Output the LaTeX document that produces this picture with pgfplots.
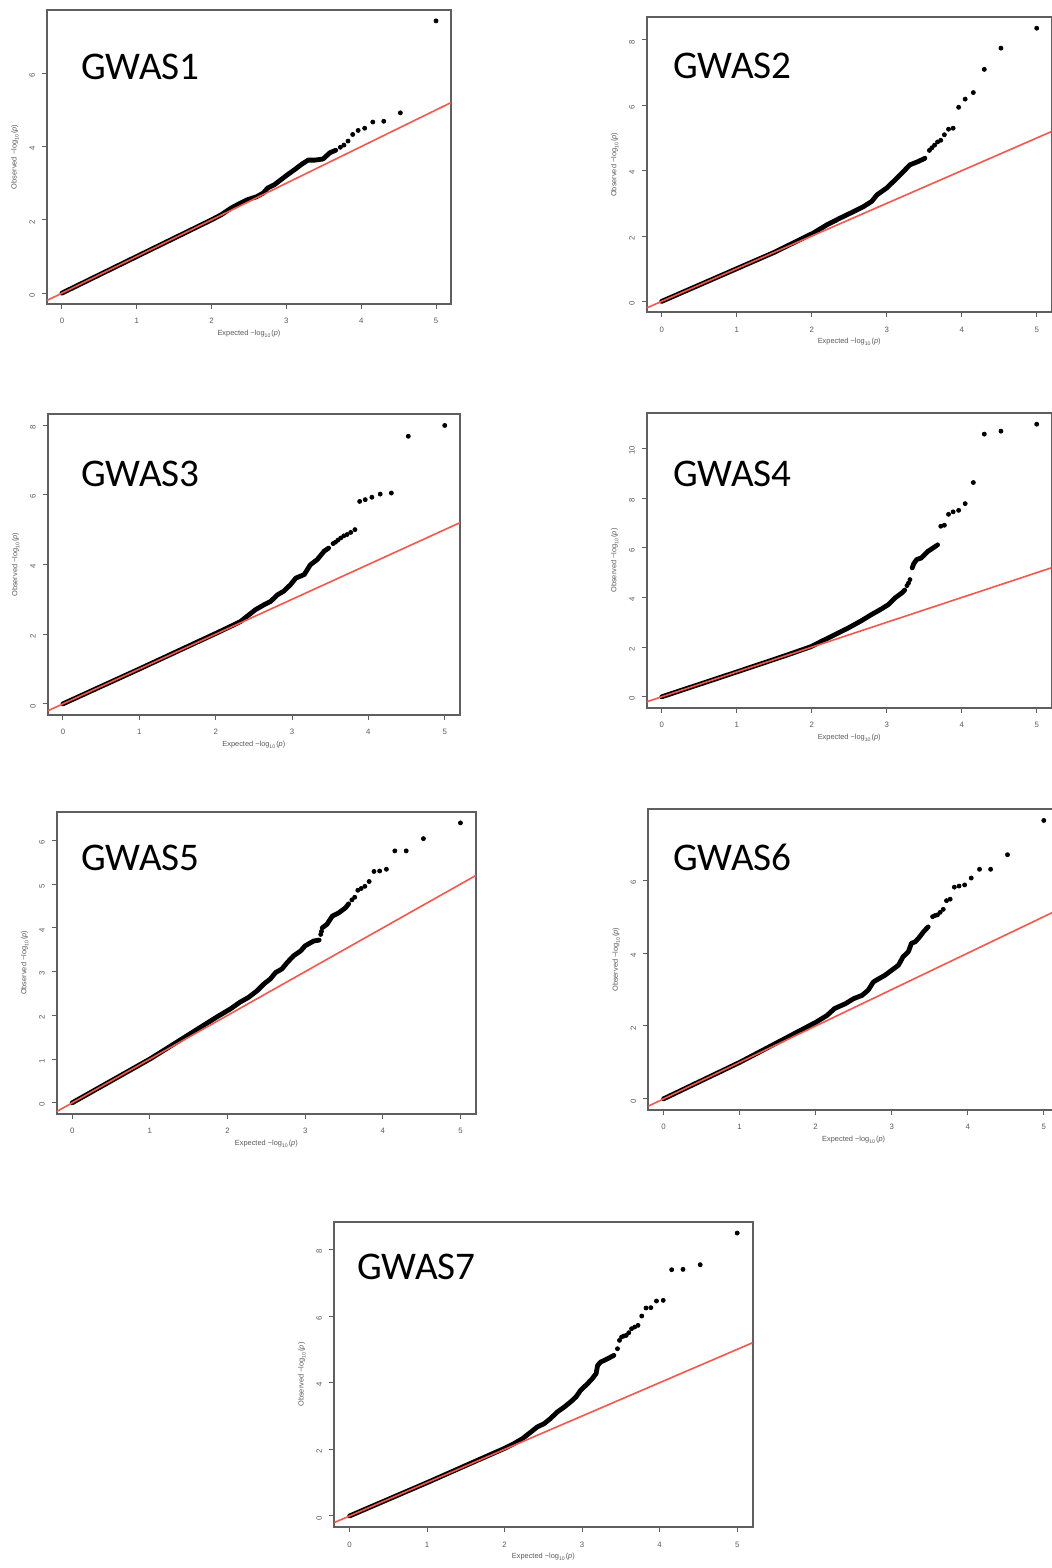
\documentclass[border=0pt]{standalone}
\usepackage{fontspec}
\setmainfont{Liberation Sans}
\newfontfamily\calib{Carlito}
\usepackage{pgfplots}
\pgfplotsset{compat=1.18}

\definecolor{qqred}{RGB}{250,85,75}
\definecolor{frame}{RGB}{95,95,95}

\pgfplotsset{
  qq/.style={
    scale only axis, anchor=north west, clip=true,
    xmin=-0.2, xmax=5.2, xtick={0,1,2,3,4,5},
    xtick pos=bottom, ytick pos=left, minor tick num=0,
    tick align=outside, major tick length=2.5pt,
    axis line style={frame, line width=0.9pt},
    tick style={frame, line width=0.5pt},
    ticklabel style={font=\fontsize{3.9}{4}\selectfont, text=black!65},
    /pgf/number format/assume math mode=true,
    xticklabel style={anchor=north, yshift=-1.2pt},
    yticklabel style={rotate=90, anchor=south, xshift=-1.0pt},
    xlabel={Expected −log\textsubscript{10}(\textit{p})},
    ylabel={Observed −log\textsubscript{10}(\textit{p})},
    label style={font=\fontsize{3.7}{4}\selectfont, text=black!65},
    xlabel style={at={([yshift=-15pt]axis description cs:0.5,0)}, anchor=center},
    ylabel style={at={([xshift=-16pt]axis description cs:0,0.5)}, anchor=center},
  },
  band/.style={black, line width=2.4pt, line cap=round, line join=round, no marks},
  dots/.style={only marks, mark=*, mark size=1pt, black},
  diag/.style={qqred, line width=0.8pt, no marks},
}

\begin{document}
\begin{tikzpicture}
\path[use as bounding box] (0pt,0pt) rectangle (526pt,-784pt);

% GWAS1
\begin{axis}[qq, at={(23.5pt,-5pt)}, width=202pt, height=147pt,
  ymin=-0.297, ymax=7.727, ytick={0,2,4,6}]
\addplot[band] coordinates {(0,0) (1,1) (1.5,1.5) (2.0,2.0) (2.13,2.14) (2.26,2.32)
  (2.37,2.44) (2.48,2.55) (2.6,2.63) (2.69,2.73) (2.75,2.87) (2.84,2.96) (2.93,3.10)
  (3.02,3.24) (3.11,3.37) (3.2,3.51) (3.29,3.63) (3.38,3.63) (3.49,3.66) (3.58,3.83) (3.66,3.90)};
\addplot[dots] coordinates {(3.721,3.98) (3.769,4.04) (3.824,4.15) (3.886,4.33) (3.959,4.44)
  (4.046,4.50) (4.155,4.67) (4.301,4.69) (4.523,4.92) (5.0,7.43)};
\addplot[diag] coordinates {(-0.2,-0.2) (5.2,5.2)};
\end{axis}

% GWAS2
\begin{axis}[qq, at={(323.35pt,-8.65pt)}, width=202.5pt, height=147.5pt,
  ymin=-0.334, ymax=8.694, ytick={0,2,4,6,8}]
\addplot[band] coordinates {(0,0) (1,1) (1.5,1.5) (2.02,2.09) (2.2,2.34) (2.38,2.55)
  (2.56,2.75) (2.69,2.9) (2.80,3.06) (2.87,3.26) (3.0,3.47) (3.09,3.67) (3.20,3.92)
  (3.31,4.18) (3.42,4.28) (3.51,4.38)};
\addplot[dots] coordinates {(3.569,4.62) (3.602,4.70) (3.638,4.78) (3.678,4.88) (3.721,4.93)
  (3.769,5.10) (3.824,5.27) (3.886,5.30) (3.959,5.94) (4.046,6.19) (4.155,6.39)
  (4.301,7.10) (4.523,7.75) (5.0,8.36)};
\addplot[diag] coordinates {(-0.2,-0.2) (5.2,5.2)};
\end{axis}

% GWAS3
\begin{axis}[qq, at={(23.85pt,-207.15pt)}, width=206.15pt, height=150.35pt,
  ymin=-0.320, ymax=8.310, ytick={0,2,4,6,8}]
\addplot[band] coordinates {(0,0) (1,1) (2.02,2.04) (2.24,2.27) (2.33,2.37) (2.41,2.51)
  (2.52,2.70) (2.63,2.84) (2.72,2.94) (2.81,3.13) (2.89,3.23) (2.98,3.42) (3.05,3.61)
  (3.16,3.71) (3.24,3.99) (3.33,4.14) (3.42,4.38) (3.48,4.47)};
\addplot[dots] coordinates {(3.538,4.60) (3.569,4.64) (3.602,4.70) (3.638,4.76) (3.678,4.82)
  (3.721,4.86) (3.769,4.92) (3.824,5.00) (3.886,5.81) (3.959,5.86) (4.046,5.93)
  (4.155,6.02) (4.301,6.05) (4.523,7.68) (5.0,7.99)};
\addplot[diag] coordinates {(-0.2,-0.2) (5.2,5.2)};
\end{axis}

% GWAS4
\begin{axis}[qq, at={(323.35pt,-206.65pt)}, width=202.5pt, height=147.2pt,
  ymin=-0.439, ymax=11.419, ytick={0,2,4,6,8,10}]
\addplot[band] coordinates {(0,0) (1,1) (1.67,1.68) (1.99,2.02) (2.12,2.22) (2.30,2.49)
  (2.48,2.76) (2.66,3.06) (2.79,3.30) (2.93,3.54) (3.02,3.71) (3.11,3.98) (3.2,4.18) (3.24,4.30)};
\addplot[band] coordinates {(3.34,5.19) (3.36,5.36) (3.40,5.53) (3.46,5.59) (3.55,5.86) (3.62,6.0) (3.66,6.08)};
\addplot[dots] coordinates {(3.27,4.48) (3.29,4.58) (3.31,4.72) (3.678,6.12) (3.721,6.87)
  (3.769,6.91) (3.824,7.35) (3.886,7.45) (3.959,7.51) (4.046,7.78) (4.155,8.63)
  (4.301,10.58) (4.523,10.70) (5.0,10.98)};
\addplot[diag] coordinates {(-0.2,-0.2) (5.2,5.2)};
\end{axis}

% GWAS5
\begin{axis}[qq, at={(28.35pt,-405.85pt)}, width=209.65pt, height=151.15pt,
  ymin=-0.256, ymax=6.656, ytick={0,1,2,3,4,5,6}]
\addplot[band] coordinates {(0,0) (1,1) (1.86,1.96) (2.04,2.15) (2.16,2.30) (2.27,2.41)
  (2.38,2.56) (2.47,2.72) (2.55,2.83) (2.62,2.98) (2.70,3.06) (2.77,3.21) (2.85,3.36)
  (2.94,3.47) (3.0,3.59) (3.11,3.70) (3.18,3.72)};
\addplot[band] coordinates {(3.22,4.0) (3.28,4.08) (3.35,4.27) (3.43,4.34) (3.52,4.46) (3.56,4.55)};
\addplot[dots] coordinates {(3.20,3.85) (3.21,3.92) (3.602,4.64) (3.638,4.70) (3.678,4.86)
  (3.721,4.90) (3.769,4.95) (3.824,5.06) (3.886,5.29) (3.959,5.30) (4.046,5.34)
  (4.155,5.76) (4.301,5.76) (4.523,6.04) (5.0,6.40)};
\addplot[diag] coordinates {(-0.2,-0.2) (5.2,5.2)};
\end{axis}

% GWAS6
\begin{axis}[qq, at={(324.15pt,-404.65pt)}, width=205.35pt, height=150.35pt,
  ymin=-0.306, ymax=7.946, ytick={0,2,4,6}]
\addplot[band] coordinates {(0,0) (1,1) (2.01,2.11) (2.15,2.29) (2.25,2.48) (2.39,2.61)
  (2.50,2.75) (2.61,2.84) (2.69,2.98) (2.76,3.21) (2.80,3.26) (2.91,3.39) (3.0,3.53)
  (3.09,3.67) (3.15,3.90) (3.22,4.04) (3.26,4.27) (3.31,4.31) (3.37,4.45) (3.42,4.59) (3.48,4.72)};
\addplot[dots] coordinates {(3.538,5.00) (3.569,5.03) (3.602,5.05) (3.638,5.12) (3.678,5.20)
  (3.721,5.44) (3.769,5.48) (3.824,5.81) (3.886,5.84) (3.959,5.87) (4.046,6.06)
  (4.155,6.30) (4.301,6.30) (4.523,6.70) (5.0,7.64)};
\addplot[diag] coordinates {(-0.2,-0.2) (5.2,5.2)};
\end{axis}

% GWAS7
\begin{axis}[qq, at={(167pt,-610.85pt)}, width=209.35pt, height=152.8pt,
  ymin=-0.340, ymax=8.830, ytick={0,2,4,6,8}]
\addplot[band] coordinates {(0,0) (1,1) (1.99,2.02) (2.12,2.17) (2.23,2.32) (2.34,2.52)
  (2.42,2.67) (2.51,2.77) (2.59,2.92) (2.68,3.12) (2.77,3.27) (2.85,3.42) (2.92,3.57)
  (2.98,3.77) (3.07,3.97) (3.13,4.12) (3.18,4.27) (3.20,4.52) (3.24,4.62) (3.33,4.72) (3.41,4.82)};
\addplot[dots] coordinates {(3.456,5.02) (3.482,5.27) (3.509,5.37) (3.538,5.40) (3.569,5.42)
  (3.602,5.50) (3.638,5.62) (3.678,5.67) (3.721,5.72) (3.769,6.00) (3.824,6.24)
  (3.886,6.25) (3.959,6.45) (4.046,6.47) (4.155,7.39) (4.301,7.40) (4.523,7.54) (5.0,8.49)};
\addplot[diag] coordinates {(-0.2,-0.2) (5.2,5.2)};
\end{axis}

% panel titles
\begin{scope}[every node/.style={anchor=base west, inner sep=0pt, font=\calib\fontsize{19.6}{20}\selectfont}]
\node at (40.5pt,-39.6pt) {GWAS1};
\node at (336.5pt,-39.5pt) {GWAS2};
\node at (40.5pt,-243.3pt) {GWAS3};
\node at (336.5pt,-243.3pt) {GWAS4};
\node at (40.5pt,-435pt) {GWAS5};
\node at (336.5pt,-435pt) {GWAS6};
\node at (178.5pt,-639.5pt) {GWAS7};
\end{scope}
\end{tikzpicture}
\end{document}
